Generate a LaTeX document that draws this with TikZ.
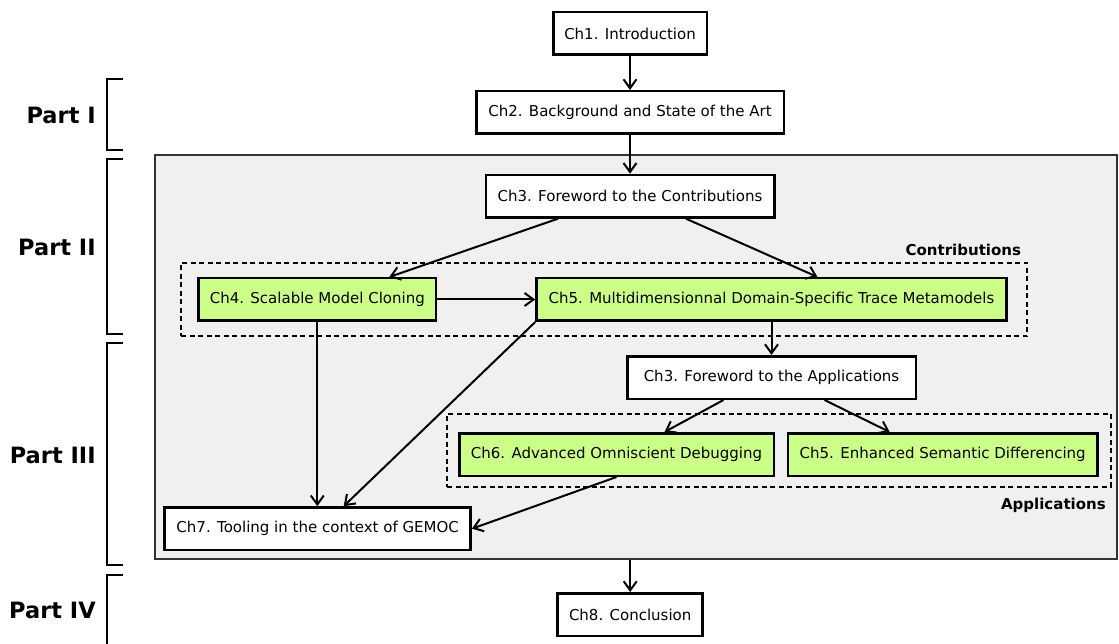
\documentclass[tikz,border=0pt]{standalone}
\usepackage{fontspec}
\setmainfont{DejaVu Sans}
\usetikzlibrary{arrows.meta,positioning}

\definecolor{contribgreen}{RGB}{204,255,136}
\definecolor{coregray}{RGB}{240,240,240}
\definecolor{coreborder}{RGB}{51,51,51}

\begin{document}
\begin{tikzpicture}[
        x=1pt, y=-1pt,
        every node/.style={font=\fontsize{15}{18}\selectfont},
        every path/.style={line width=2pt},
        >={Straight Barb[length=9pt,width=13pt]},
        chapter/.style={draw, line width=2.5pt, fill=white, minimum height=42.5pt, inner xsep=0pt, align=center},
        contrib/.style={chapter, fill=contribgreen},
        group/.style={draw, dash pattern=on 5pt off 3.5pt, minimum height=73.3pt},
        partlabel/.style={anchor=base east, inner sep=0pt, font=\fontsize{22.5}{27}\selectfont\bfseries},
        grouplabel/.style={anchor=base east, inner sep=0pt, font=\fontsize{15}{18}\selectfont\bfseries}
    ]

    \useasboundingbox (0,0) rectangle (1119,644);

    % Parts
    \node (core) at (636,357.3) [draw=coreborder, fill=coregray, minimum width=962pt, minimum height=404pt] {};

    \node (p1) at (96.7,123.3) [partlabel] {Part I};
    \node (p2) at (96.7,255.3) [partlabel] {Part II};
    \node (p3) at (96.7,463.7) [partlabel] {Part III};
    \node (p4) at (96.7,618.7) [partlabel] {Part IV};

    \draw (122.7,79.3) -- (106.7,79.3) -- (106.7,150) -- (122.7,150);
    \draw (122.7,159.3) -- (106.7,159.3) -- (106.7,334.3) -- (122.7,334.3);
    \draw (122.7,343) -- (106.7,343) -- (106.7,565.3) -- (122.7,565.3);
    \draw (122.7,574.7) -- (106.7,574.7) -- (106.7,660);

    % Groups
    \node (contribs) at (604.3,299.4) [group, minimum width=846pt] {};
    \node (apps) at (779,450.4) [group, minimum width=663.4pt] {};
    \node (contriblabel) at (1022,255.3) [grouplabel] {Contributions};
    \node (applabel) at (1106.7,509.7) [grouplabel] {Applications};

    % Nodes
    \node (ch1) at (630,33.5) [chapter, minimum width=153.5pt] {Ch1. Introduction};

    \node (ch2)[below=34pt of ch1, chapter, minimum width=307.5pt] {Ch2. Background and State of the Art};

    \node (ch3c)[below=38.7pt of ch2, chapter, minimum width=288.5pt] {Ch3. Foreword to the Contributions};

    \node (ch4) at (317.3,299.5) [contrib, minimum width=237.5pt] {Ch4. Scalable Model Cloning};

    \node (ch5) at (771.5,299.5) [contrib, minimum width=470pt] {Ch5. Multidimensionnal Domain-Specific Trace Metamodels};

    \node (ch3a)[below=33pt of ch5, chapter, minimum width=288.5pt] {Ch3. Foreword to the Applications};

    \node (ch6) at (616.5,454.5) [contrib, minimum width=314.5pt] {Ch6. Advanced Omniscient Debugging};

    \node (ch5b)[right=11.7pt of ch6, contrib, minimum width=309.5pt] {Ch5. Enhanced Semantic Differencing};

    \node (ch7) at (317.7,528.7) [chapter, minimum width=306pt] {Ch7. Tooling in the context of GEMOC};

    \node (ch8) at (630.2,614.5) [chapter, minimum width=145pt] {Ch8. Conclusion};

    % Edges
    \draw[->] (ch1) -- (ch2);
    \draw[->] (ch2) -- (ch3c);
    \draw[->] ([xshift=-72pt]ch3c.south) -- ([xshift=72pt]ch4.north);
    \draw[->] ([xshift=56pt]ch3c.south) -- ([xshift=46pt]ch5.north);
    \draw[->] (ch4) -- (ch5);
    \draw[->] (ch5) -- (ch3a);
    \draw[->] ([xshift=-48pt]ch3a.south) -- ([xshift=48pt]ch6.north);
    \draw[->] ([xshift=53pt]ch3a.south) -- ([xshift=-53pt]ch5b.north);
    \draw[->] (ch4) -- (ch4 |- ch7.north);
    \draw[->] (ch5.south west) -- ([xshift=26pt]ch7.north);
    \draw[->] (ch6.south) -- (ch7.east);
    \draw[->] (ch8 |- core.south) -- (ch8);

\end{tikzpicture}
\end{document}
